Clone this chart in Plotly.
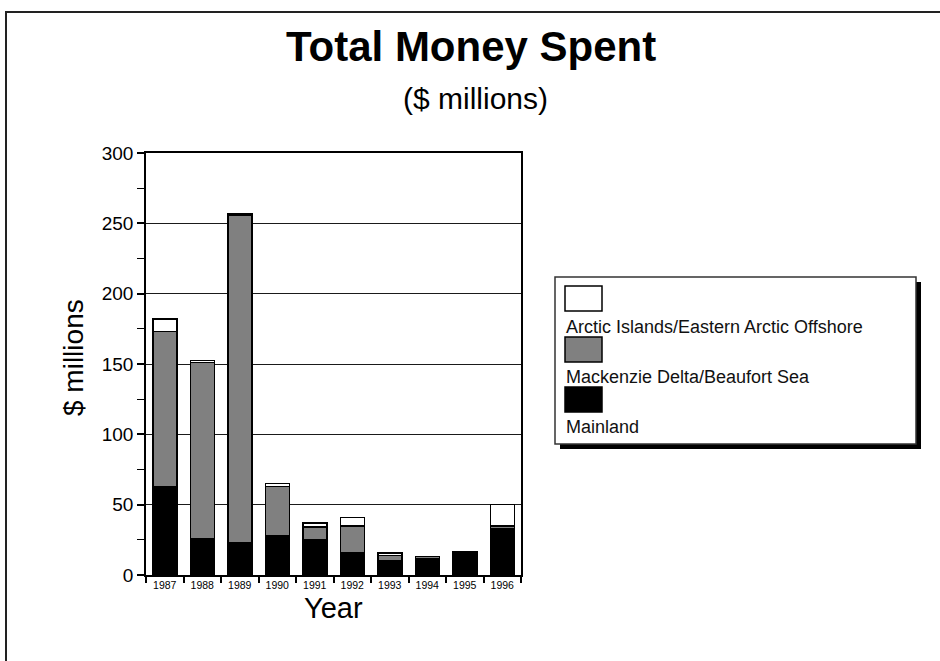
import plotly.graph_objects as go

years = ["1987", "1988", "1989", "1990", "1991", "1992", "1993", "1994", "1995", "1996"]
mainland = [63, 26, 23, 28, 25, 16, 10, 11.5, 16.5, 33]
mackenzie = [110, 125, 233, 35, 9, 19, 4, 1.5, 0, 2]
arctic = [9, 1.5, 1, 2, 3, 6, 1.5, 0.3, 0, 15]

series_names = ["Mainland", "Mackenzie Delta/Beaufort Sea", "Arctic Islands/Eastern Arctic Offshore"]
series_colors = ["#000000", "#808080", "#ffffff"]
y_ticks = [0, 50, 100, 150, 200, 250, 300]

W, H = 940, 661
L, R, T, B = 146, 521, 153, 575
FONT = "Arial, Liberation Sans, Helvetica, sans-serif"


def px(x):
    return (x - L) / (R - L)


def py(y):
    return (B - y) / (B - T)


fig = go.Figure()
for name, vals, col in zip(series_names, [mainland, mackenzie, arctic], series_colors):
    fig.add_trace(go.Bar(
        x=years, y=vals, name=name,
        marker=dict(color=col, line=dict(color="#000000", width=1.5)),
        showlegend=False,
    ))

shapes = []
annotations = []

# outer frame
shapes.append(dict(type="rect", xref="paper", yref="paper",
                   x0=px(6), x1=px(W + 20), y0=py(12), y1=py(H + 20),
                   line=dict(color="#222222", width=2), fillcolor="rgba(0,0,0,0)", layer="below"))

# legend box with shadow
lx0, lx1, ly0, ly1 = 555, 916, 277, 444
shapes.append(dict(type="rect", xref="paper", yref="paper",
                   x0=px(lx0 + 5), x1=px(lx1 + 5), y0=py(ly0 + 5), y1=py(ly1 + 5),
                   line=dict(width=0), fillcolor="#000000"))
shapes.append(dict(type="rect", xref="paper", yref="paper",
                   x0=px(lx0), x1=px(lx1), y0=py(ly0), y1=py(ly1),
                   line=dict(color="#333333", width=1.5), fillcolor="#ffffff"))

legend_items = list(zip(series_names, series_colors))[::-1]
sw_tops = [286, 337, 387]
txt_ys = [327, 377, 427]
for (name, col), st, ty in zip(legend_items, sw_tops, txt_ys):
    shapes.append(dict(type="rect", xref="paper", yref="paper",
                       x0=px(565), x1=px(602), y0=py(st), y1=py(st + 25),
                       line=dict(color="#000000", width=1.5), fillcolor=col))
    annotations.append(dict(xref="paper", yref="paper", x=px(564), y=py(ty),
                            xanchor="left", yanchor="middle", showarrow=False,
                            text=name, font=dict(family=FONT, size=18, color="#111111")))

# titles
annotations.append(dict(xref="paper", yref="paper", x=px(471), y=py(47),
                        xanchor="center", yanchor="middle", showarrow=False,
                        text="<b>Total Money Spent</b>",
                        font=dict(family=FONT, size=42, color="#000000")))
annotations.append(dict(xref="paper", yref="paper", x=px(475), y=py(99),
                        xanchor="center", yanchor="middle", showarrow=False,
                        text="($ millions)",
                        font=dict(family=FONT, size=30, color="#000000")))
annotations.append(dict(xref="paper", yref="paper", x=px(73), y=py(358),
                        xanchor="center", yanchor="middle", showarrow=False,
                        text="$ millions", textangle=-90,
                        font=dict(family=FONT, size=28, color="#000000")))
annotations.append(dict(xref="paper", yref="paper", x=px(333), y=py(608),
                        xanchor="center", yanchor="middle", showarrow=False,
                        text="Year",
                        font=dict(family=FONT, size=29, color="#000000")))

fig.update_layout(
    width=W, height=H,
    margin=dict(l=L, r=W - R, t=T, b=H - B, pad=0),
    paper_bgcolor="#ffffff", plot_bgcolor="#ffffff",
    barmode="stack", bargap=0.36,
    shapes=shapes, annotations=annotations,
    font=dict(family=FONT, color="#000000"),
    xaxis=dict(type="category", tickson="boundaries", ticks="outside", ticklen=6,
               tickwidth=1.5, tickcolor="#000000",
               showline=True, linecolor="#000000", linewidth=1.5, mirror=True,
               showgrid=False, tickfont=dict(size=10.5, family=FONT, color="#000000")),
    yaxis=dict(range=[0, 300], tickvals=y_ticks, ticks="outside", ticklen=7,
               tickwidth=1.5, tickcolor="#000000",
               showline=True, linecolor="#000000", linewidth=1.5, mirror=True,
               showgrid=True, gridcolor="#1a1a1a", gridwidth=1, zeroline=False,
               minor=dict(dtick=25, ticks="outside", ticklen=7, tickwidth=1.2, tickcolor="#000000", showgrid=False),
               tickfont=dict(size=19, family=FONT, color="#000000")),
)

fig.write_html("out.html", config={"displayModeBar": False},
               post_script="document.body.style.margin='0';document.body.style.overflow='hidden';")
